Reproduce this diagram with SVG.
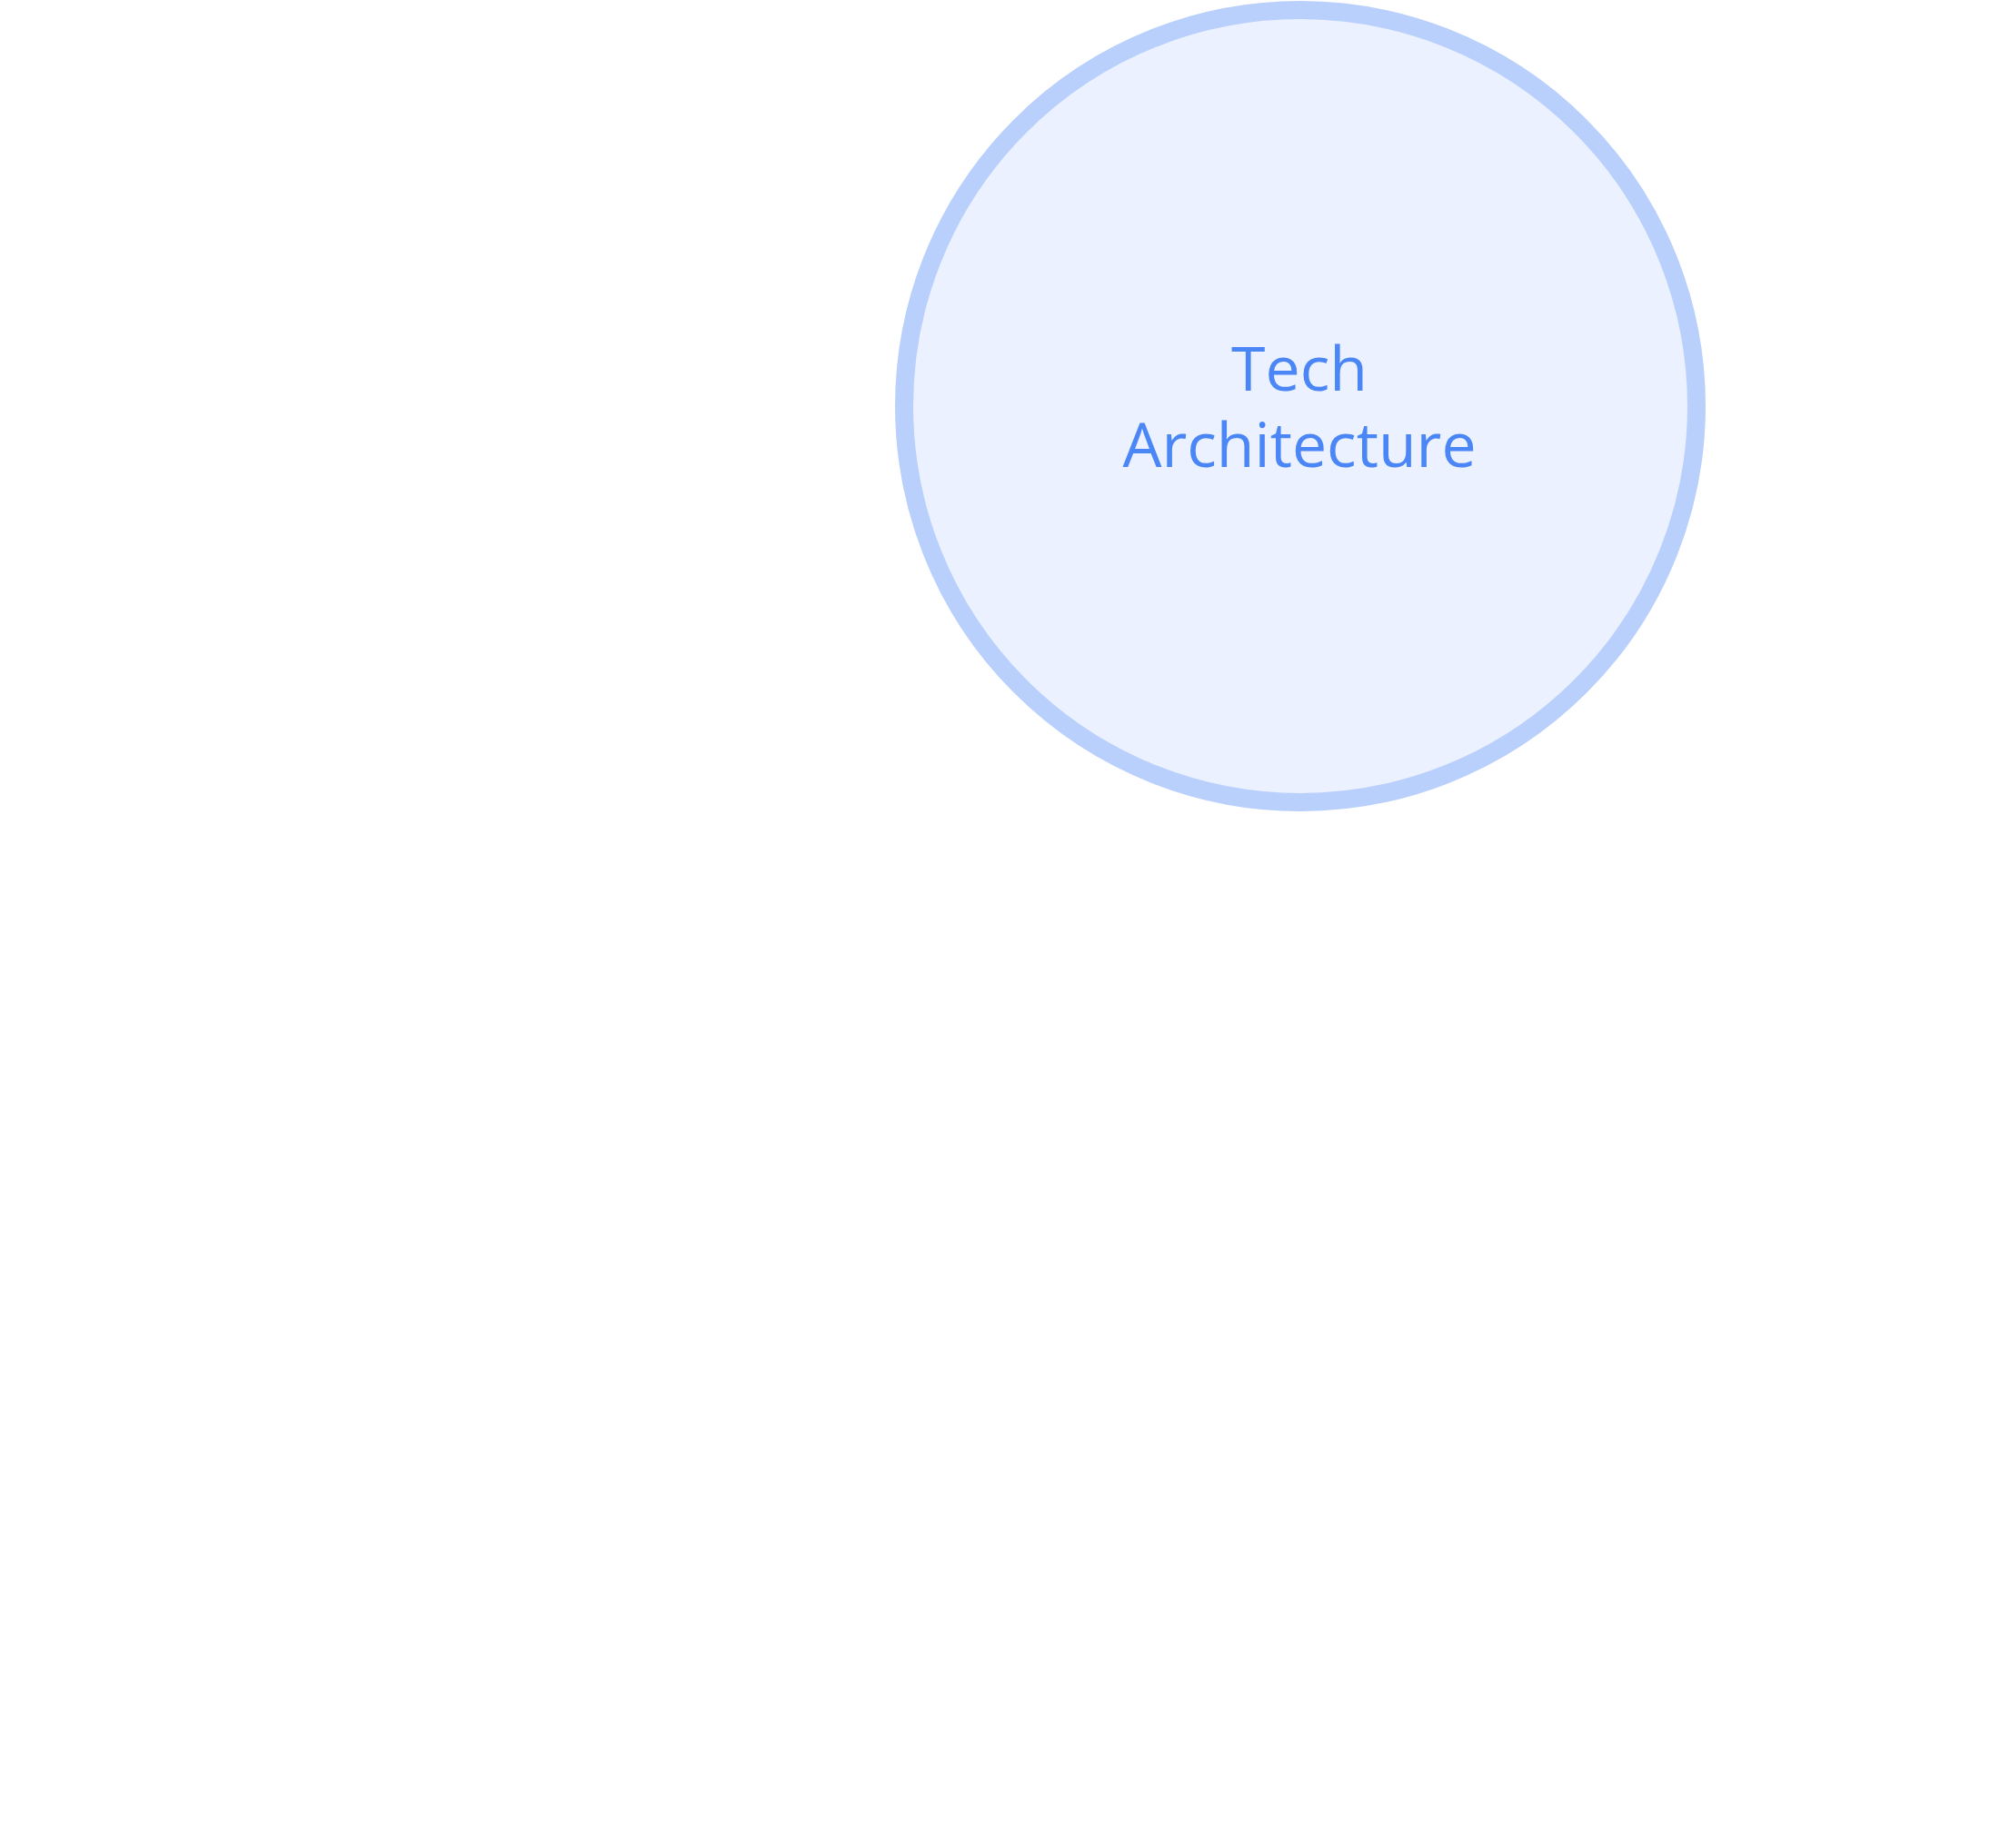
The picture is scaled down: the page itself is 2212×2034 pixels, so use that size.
<svg xmlns="http://www.w3.org/2000/svg" width="2212" height="2034" viewBox="0 0 2212 2034">
<style>
.node-circle{fill:#EBF1FE;stroke:#B9CFFC;stroke-width:20}
.label{font-family:"Open Sans","Liberation Sans",sans-serif;font-size:68px;font-weight:500;fill:#4A86F6;text-anchor:middle}
</style>
<rect width="2212" height="2034" fill="#FFFFFF"/>
<g id="connectors"></g>
<g id="node-tech-architecture">
<circle class="node-circle" cx="1431" cy="447" r="436"/>
<text class="label" x="1430" y="430">Tech</text>
<text class="label" x="1430" y="514">Architecture</text>
</g>
</svg>
